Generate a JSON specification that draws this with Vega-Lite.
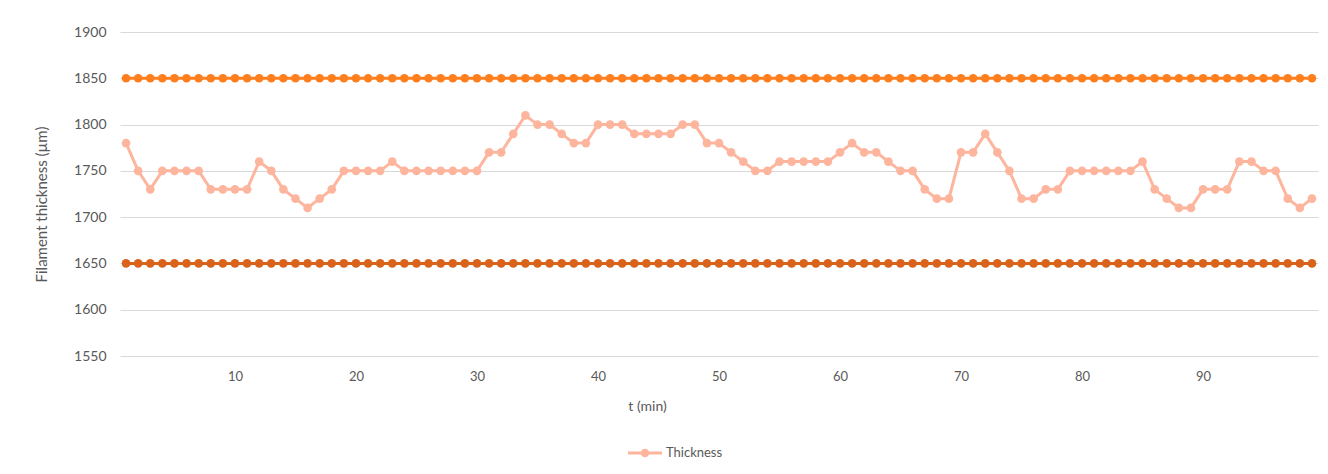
{
  "$schema": "https://vega.github.io/schema/vega-lite/v6.json",
  "width": 1198,
  "height": 324,
  "autosize": {"type": "none"},
  "padding": {"left": 120, "top": 32, "right": 10, "bottom": 118},
  "background": "white",
  "config": {
    "view": {"stroke": null},
    "font": "Lato",
    "axis": {"labelColor": "#595959", "titleColor": "#595959", "titleFontWeight": "normal", "labelFont": "Lato", "titleFont": "Lato"},
    "legend": {"labelColor": "#595959", "labelFont": "Lato"}
  },
  "data": {
    "values": [
      {"t": 1, "Thickness": 1780, "Upper limit": 1850, "Lower limit": 1650},
      {"t": 2, "Thickness": 1750, "Upper limit": 1850, "Lower limit": 1650},
      {"t": 3, "Thickness": 1730, "Upper limit": 1850, "Lower limit": 1650},
      {"t": 4, "Thickness": 1750, "Upper limit": 1850, "Lower limit": 1650},
      {"t": 5, "Thickness": 1750, "Upper limit": 1850, "Lower limit": 1650},
      {"t": 6, "Thickness": 1750, "Upper limit": 1850, "Lower limit": 1650},
      {"t": 7, "Thickness": 1750, "Upper limit": 1850, "Lower limit": 1650},
      {"t": 8, "Thickness": 1730, "Upper limit": 1850, "Lower limit": 1650},
      {"t": 9, "Thickness": 1730, "Upper limit": 1850, "Lower limit": 1650},
      {"t": 10, "Thickness": 1730, "Upper limit": 1850, "Lower limit": 1650},
      {"t": 11, "Thickness": 1730, "Upper limit": 1850, "Lower limit": 1650},
      {"t": 12, "Thickness": 1760, "Upper limit": 1850, "Lower limit": 1650},
      {"t": 13, "Thickness": 1750, "Upper limit": 1850, "Lower limit": 1650},
      {"t": 14, "Thickness": 1730, "Upper limit": 1850, "Lower limit": 1650},
      {"t": 15, "Thickness": 1720, "Upper limit": 1850, "Lower limit": 1650},
      {"t": 16, "Thickness": 1710, "Upper limit": 1850, "Lower limit": 1650},
      {"t": 17, "Thickness": 1720, "Upper limit": 1850, "Lower limit": 1650},
      {"t": 18, "Thickness": 1730, "Upper limit": 1850, "Lower limit": 1650},
      {"t": 19, "Thickness": 1750, "Upper limit": 1850, "Lower limit": 1650},
      {"t": 20, "Thickness": 1750, "Upper limit": 1850, "Lower limit": 1650},
      {"t": 21, "Thickness": 1750, "Upper limit": 1850, "Lower limit": 1650},
      {"t": 22, "Thickness": 1750, "Upper limit": 1850, "Lower limit": 1650},
      {"t": 23, "Thickness": 1760, "Upper limit": 1850, "Lower limit": 1650},
      {"t": 24, "Thickness": 1750, "Upper limit": 1850, "Lower limit": 1650},
      {"t": 25, "Thickness": 1750, "Upper limit": 1850, "Lower limit": 1650},
      {"t": 26, "Thickness": 1750, "Upper limit": 1850, "Lower limit": 1650},
      {"t": 27, "Thickness": 1750, "Upper limit": 1850, "Lower limit": 1650},
      {"t": 28, "Thickness": 1750, "Upper limit": 1850, "Lower limit": 1650},
      {"t": 29, "Thickness": 1750, "Upper limit": 1850, "Lower limit": 1650},
      {"t": 30, "Thickness": 1750, "Upper limit": 1850, "Lower limit": 1650},
      {"t": 31, "Thickness": 1770, "Upper limit": 1850, "Lower limit": 1650},
      {"t": 32, "Thickness": 1770, "Upper limit": 1850, "Lower limit": 1650},
      {"t": 33, "Thickness": 1790, "Upper limit": 1850, "Lower limit": 1650},
      {"t": 34, "Thickness": 1810, "Upper limit": 1850, "Lower limit": 1650},
      {"t": 35, "Thickness": 1800, "Upper limit": 1850, "Lower limit": 1650},
      {"t": 36, "Thickness": 1800, "Upper limit": 1850, "Lower limit": 1650},
      {"t": 37, "Thickness": 1790, "Upper limit": 1850, "Lower limit": 1650},
      {"t": 38, "Thickness": 1780, "Upper limit": 1850, "Lower limit": 1650},
      {"t": 39, "Thickness": 1780, "Upper limit": 1850, "Lower limit": 1650},
      {"t": 40, "Thickness": 1800, "Upper limit": 1850, "Lower limit": 1650},
      {"t": 41, "Thickness": 1800, "Upper limit": 1850, "Lower limit": 1650},
      {"t": 42, "Thickness": 1800, "Upper limit": 1850, "Lower limit": 1650},
      {"t": 43, "Thickness": 1790, "Upper limit": 1850, "Lower limit": 1650},
      {"t": 44, "Thickness": 1790, "Upper limit": 1850, "Lower limit": 1650},
      {"t": 45, "Thickness": 1790, "Upper limit": 1850, "Lower limit": 1650},
      {"t": 46, "Thickness": 1790, "Upper limit": 1850, "Lower limit": 1650},
      {"t": 47, "Thickness": 1800, "Upper limit": 1850, "Lower limit": 1650},
      {"t": 48, "Thickness": 1800, "Upper limit": 1850, "Lower limit": 1650},
      {"t": 49, "Thickness": 1780, "Upper limit": 1850, "Lower limit": 1650},
      {"t": 50, "Thickness": 1780, "Upper limit": 1850, "Lower limit": 1650},
      {"t": 51, "Thickness": 1770, "Upper limit": 1850, "Lower limit": 1650},
      {"t": 52, "Thickness": 1760, "Upper limit": 1850, "Lower limit": 1650},
      {"t": 53, "Thickness": 1750, "Upper limit": 1850, "Lower limit": 1650},
      {"t": 54, "Thickness": 1750, "Upper limit": 1850, "Lower limit": 1650},
      {"t": 55, "Thickness": 1760, "Upper limit": 1850, "Lower limit": 1650},
      {"t": 56, "Thickness": 1760, "Upper limit": 1850, "Lower limit": 1650},
      {"t": 57, "Thickness": 1760, "Upper limit": 1850, "Lower limit": 1650},
      {"t": 58, "Thickness": 1760, "Upper limit": 1850, "Lower limit": 1650},
      {"t": 59, "Thickness": 1760, "Upper limit": 1850, "Lower limit": 1650},
      {"t": 60, "Thickness": 1770, "Upper limit": 1850, "Lower limit": 1650},
      {"t": 61, "Thickness": 1780, "Upper limit": 1850, "Lower limit": 1650},
      {"t": 62, "Thickness": 1770, "Upper limit": 1850, "Lower limit": 1650},
      {"t": 63, "Thickness": 1770, "Upper limit": 1850, "Lower limit": 1650},
      {"t": 64, "Thickness": 1760, "Upper limit": 1850, "Lower limit": 1650},
      {"t": 65, "Thickness": 1750, "Upper limit": 1850, "Lower limit": 1650},
      {"t": 66, "Thickness": 1750, "Upper limit": 1850, "Lower limit": 1650},
      {"t": 67, "Thickness": 1730, "Upper limit": 1850, "Lower limit": 1650},
      {"t": 68, "Thickness": 1720, "Upper limit": 1850, "Lower limit": 1650},
      {"t": 69, "Thickness": 1720, "Upper limit": 1850, "Lower limit": 1650},
      {"t": 70, "Thickness": 1770, "Upper limit": 1850, "Lower limit": 1650},
      {"t": 71, "Thickness": 1770, "Upper limit": 1850, "Lower limit": 1650},
      {"t": 72, "Thickness": 1790, "Upper limit": 1850, "Lower limit": 1650},
      {"t": 73, "Thickness": 1770, "Upper limit": 1850, "Lower limit": 1650},
      {"t": 74, "Thickness": 1750, "Upper limit": 1850, "Lower limit": 1650},
      {"t": 75, "Thickness": 1720, "Upper limit": 1850, "Lower limit": 1650},
      {"t": 76, "Thickness": 1720, "Upper limit": 1850, "Lower limit": 1650},
      {"t": 77, "Thickness": 1730, "Upper limit": 1850, "Lower limit": 1650},
      {"t": 78, "Thickness": 1730, "Upper limit": 1850, "Lower limit": 1650},
      {"t": 79, "Thickness": 1750, "Upper limit": 1850, "Lower limit": 1650},
      {"t": 80, "Thickness": 1750, "Upper limit": 1850, "Lower limit": 1650},
      {"t": 81, "Thickness": 1750, "Upper limit": 1850, "Lower limit": 1650},
      {"t": 82, "Thickness": 1750, "Upper limit": 1850, "Lower limit": 1650},
      {"t": 83, "Thickness": 1750, "Upper limit": 1850, "Lower limit": 1650},
      {"t": 84, "Thickness": 1750, "Upper limit": 1850, "Lower limit": 1650},
      {"t": 85, "Thickness": 1760, "Upper limit": 1850, "Lower limit": 1650},
      {"t": 86, "Thickness": 1730, "Upper limit": 1850, "Lower limit": 1650},
      {"t": 87, "Thickness": 1720, "Upper limit": 1850, "Lower limit": 1650},
      {"t": 88, "Thickness": 1710, "Upper limit": 1850, "Lower limit": 1650},
      {"t": 89, "Thickness": 1710, "Upper limit": 1850, "Lower limit": 1650},
      {"t": 90, "Thickness": 1730, "Upper limit": 1850, "Lower limit": 1650},
      {"t": 91, "Thickness": 1730, "Upper limit": 1850, "Lower limit": 1650},
      {"t": 92, "Thickness": 1730, "Upper limit": 1850, "Lower limit": 1650},
      {"t": 93, "Thickness": 1760, "Upper limit": 1850, "Lower limit": 1650},
      {"t": 94, "Thickness": 1760, "Upper limit": 1850, "Lower limit": 1650},
      {"t": 95, "Thickness": 1750, "Upper limit": 1850, "Lower limit": 1650},
      {"t": 96, "Thickness": 1750, "Upper limit": 1850, "Lower limit": 1650},
      {"t": 97, "Thickness": 1720, "Upper limit": 1850, "Lower limit": 1650},
      {"t": 98, "Thickness": 1710, "Upper limit": 1850, "Lower limit": 1650},
      {"t": 99, "Thickness": 1720, "Upper limit": 1850, "Lower limit": 1650}
    ]
  },
  "transform": [
    {"fold": ["Thickness", "Upper limit", "Lower limit"], "as": ["series", "value"]}
  ],
  "mark": {"type": "line", "strokeWidth": 3, "point": {"filled": true, "size": 75, "opacity": 1}},
  "encoding": {
    "x": {
      "field": "t",
      "type": "quantitative",
      "scale": {"domain": [0.5, 99.5], "nice": false, "zero": false},
      "axis": {
        "title": "t (min)",
        "values": [10, 20, 30, 40, 50, 60, 70, 80, 90],
        "format": "d",
        "grid": false,
        "ticks": false,
        "domain": false,
        "labelFontSize": 13,
        "labelPadding": 14,
        "titleFontSize": 14,
        "titleX": 527,
        "titleY": 50,
        "titleAlign": "center",
        "titleBaseline": "middle"
      }
    },
    "y": {
      "field": "value",
      "type": "quantitative",
      "scale": {"domain": [1550, 1900], "nice": false, "zero": false},
      "axis": {
        "title": "Filament thickness (µm)",
        "values": [1550, 1600, 1650, 1700, 1750, 1800, 1850, 1900],
        "format": "d",
        "grid": true,
        "gridColor": "#D9D9D9",
        "gridWidth": 1,
        "ticks": false,
        "domain": false,
        "labelFontSize": 14,
        "labelPadding": 14,
        "titleFontSize": 15,
        "titleX": -79,
        "titleY": 172,
        "titleAngle": -90,
        "titleAlign": "center",
        "titleBaseline": "middle"
      }
    },
    "color": {
      "field": "series",
      "type": "nominal",
      "sort": ["Thickness", "Upper limit", "Lower limit"],
      "scale": {
        "domain": ["Thickness", "Upper limit", "Lower limit"],
        "range": ["#FDB59D", "#FF7F1F", "#D9631A"]
      },
      "legend": {
        "title": null,
        "values": ["Thickness"],
        "orient": "none",
        "legendX": 508,
        "legendY": 404,
        "symbolType": "M-1,-0.09H1V0.09H-1Z M0.25,0A0.25,0.25,0,1,1,-0.25,0A0.25,0.25,0,1,1,0.25,0Z",
        "symbolSize": 1156,
        "symbolStrokeWidth": 0,
        "labelFontSize": 13,
        "labelOffset": 4,
        "encode": {
          "symbols": {
            "update": {
              "fill": {"value": "#FDB59D"},
              "stroke": {"value": "transparent"},
              "opacity": {"value": 1}
            }
          }
        }
      }
    }
  }
}
